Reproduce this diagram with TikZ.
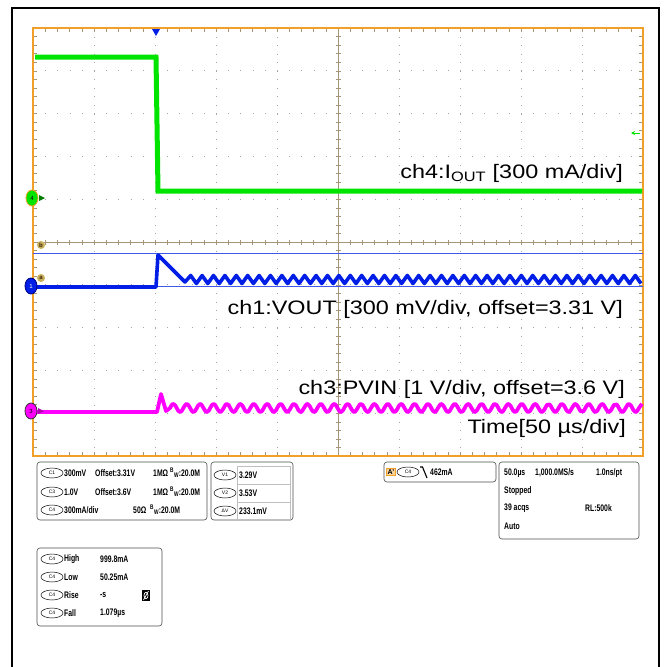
\documentclass[tikz,border=0pt]{standalone}
\usepackage{fontspec}
\setmainfont{Liberation Sans}
\usetikzlibrary{shapes.geometric,arrows.meta}
\definecolor{scopeorange}{RGB}{240,160,40}
\definecolor{trgreen}{RGB}{0,228,0}
\definecolor{trblue}{RGB}{0,30,230}
\definecolor{trmag}{RGB}{255,0,255}
\definecolor{tickgray}{RGB}{165,150,120}
\definecolor{tanmark}{RGB}{200,175,90}
\newcommand\wide[1]{\scalebox{1.2}[1]{#1}}
\newcommand\lcd[1]{\scalebox{0.72}[1]{\bfseries #1}}
\begin{document}
\begin{tikzpicture}[x=1pt, y=-1pt,
  tick/.style={tickgray, line width=0.5pt},
  gridv/.style={black!35, line width=0.9pt, dash pattern=on 0.9pt off 7.66pt},
  gridh/.style={black!35, line width=0.9pt, dash pattern=on 0.9pt off 11.3pt},
  chcapt/.style={anchor=east, inner sep=0pt, font=\fontsize{19.5}{19.5}\selectfont},
  badge/.style={ellipse, draw, line width=0.5pt, minimum width=22pt, minimum height=10pt, inner sep=0pt, font=\fontsize{5}{5}\selectfont},
  rd/.style={anchor=west, inner sep=0pt, font=\fontsize{9.5}{9.5}\selectfont},
  panel/.style={draw=black!70, rounded corners=3pt, line width=0.6pt},
  chmark/.style={ellipse, minimum width=12pt, minimum height=16pt, inner sep=0pt, line width=0.8pt, font=\fontsize{6}{6}\selectfont},
  refmark/.style={circle, fill=tanmark, minimum size=8pt, inner sep=0pt, text=black!70!brown, font=\fontsize{6}{6}\bfseries}]
\useasboundingbox (0,0) rectangle (666,667);
\draw[line width=2pt] (12,680) -- (12,8) -- (659,8) -- (659,680);

\foreach \i in {1,2,3,4,6,7,8,9}{
  \draw[gridv] (33+61*\i,28) -- (33+61*\i,456);
  \draw[gridh] (33,28+42.8*\i) -- (643,28+42.8*\i);
}
\draw[tick] (33,242) -- (643,242) (338,28) -- (338,456);
\foreach \k in {1,...,49}{
  \draw[tick] (33+12.2*\k,28) -- +(0,4) (33+12.2*\k,456) -- +(0,-4) (33+12.2*\k,239.5) -- +(0,5);
  \draw[tick] (33,28+8.56*\k) -- +(4,0) (643,28+8.56*\k) -- +(-4,0) (335.5,28+8.56*\k) -- +(5,0);
}
\draw[scopeorange, line width=1.6pt] (33,28) rectangle (643,456);

\draw[trgreen, line width=5pt] (35,57) -- (156,57) -- (158,191) -- (642,191);
\draw[trblue!75, line width=0.8pt] (33,253) -- (643,253) (33,286) -- (643,286);
\draw[trblue, line width=3.6pt, line join=round] (35,287) -- (156,287) -- (158,255) -- (185,282)
  \foreach \k in {1,...,80}{ -- ({185+5.7*\k},{mod(\k,2)==1 ? 275.5 : 283.5}) };
\draw[trmag, line width=3.8pt, line join=round] (35,412) -- (157,412) -- (161,394) -- (166,411) -- (170,408)
  -- plot[smooth, domain=170:642, samples=170] (\x,{408-4.2*sin((\x-170)/13.4*360)});

\fill[trblue] (152,29) -- (160,29) -- (156,36) -- cycle;
\draw[trgreen, line width=1pt, -{Stealth[length=4pt, width=4pt]}] (640,133) -- (631,133);

\node[chmark, fill=trgreen, draw=scopeorange] (mk4) at (32,198) {4};
\fill[trgreen!55!black] (39,195) -- (45,198) -- (39,201) -- cycle;
\node[refmark] (mkb) at (41,245) {b};
\node[refmark] (mka) at (41,278) {a};
\node[chmark, fill=trblue, draw=blue!50!black, text=white] (mk1) at (31,286) {1};
\node[chmark, fill=trmag, draw=black!80] (mk3) at (31,411) {3};
\fill[trmag!70!black] (38,408) -- (44,411) -- (38,414) -- cycle;

\node[chcapt] (ch4cap) at (623,173) {\wide{ch4:I\textsubscript{OUT} [300 mA/div]}};
\node[chcapt] (ch1cap) at (623,309) {\wide{ch1:VOUT [300 mV/div, offset=3.31 V]}};
\node[chcapt] (ch3cap) at (625,389) {\wide{ch3:PVIN [1 V/div, offset=3.6 V]}};
\node[chcapt] (tcap) at (626,428) {\wide{Time[50 µs/div]}};

\draw[panel] (37,462) rectangle (207,520);
\node[badge] (c1b) at (52,473) {C1};
\node[rd] (c1s) at (64,473) {\lcd{300mV}};
\node[rd] (c1o) at (95,473) {\lcd{Offset:3.31V}};
\node[rd] (c1z) at (153,473) {\lcd{1MΩ}};
\node[rd] (c1w) at (170,473) {\lcd{\textsuperscript{B}\textsubscript{W}:20.0M}};
\node[badge] (c3b) at (52,492) {C3};
\node[rd] (c3s) at (64,492) {\lcd{1.0V}};
\node[rd] (c3o) at (95,492) {\lcd{Offset:3.6V}};
\node[rd] (c3z) at (153,492) {\lcd{1MΩ}};
\node[rd] (c3w) at (170,492) {\lcd{\textsuperscript{B}\textsubscript{W}:20.0M}};
\node[badge] (c4b) at (52,510) {C4};
\node[rd] (c4s) at (64,510) {\lcd{300mA/div}};
\node[rd] (c4z) at (133,510) {\lcd{50Ω}};
\node[rd] (c4w) at (150,510) {\lcd{\textsuperscript{B}\textsubscript{W}:20.0M}};

\draw[panel] (211,462) rectangle (293,520);
\draw[black!25, line width=0.5pt] (237,466) rectangle (290,520) (237,484) -- (290,484) (237,502) -- (290,502);
\node[badge] (v1b) at (225,475) {V1};
\node[rd] (v1v) at (239,475) {\lcd{3.29V}};
\node[badge] (v2b) at (225,493) {V2};
\node[rd] (v2v) at (239,493) {\lcd{3.53V}};
\node[badge] (dvb) at (225,511) {ΔV};
\node[rd] (dvv) at (239,511) {\lcd{233.1mV}};

\draw[panel] (384,462) rectangle (496,482);
\node[fill=scopeorange!45, draw=scopeorange, line width=0.4pt, inner sep=1pt, font=\fontsize{7}{7}\bfseries] (trA) at (391,472) {A'};
\node[badge] (trc4) at (408,472) {C4};
\draw[line width=1.1pt] (420,467) -- (422.5,467) -- (427,478);
\node[rd] (trv) at (430,472) {\lcd{462mA}};

\draw[panel] (499,462) rectangle (639,539);
\node[rd] (hz1) at (504,473) {\lcd{50.0µs}};
\node[rd] (hz2) at (535,473) {\lcd{1,000.0MS/s}};
\node[rd] (hz3) at (596,473) {\lcd{1.0ns/pt}};
\node[rd] (acq1) at (504,491) {\lcd{Stopped}};
\node[rd] (acq2) at (504,508) {\lcd{39 acqs}};
\node[rd] (acq3) at (585,508) {\lcd{RL:500k}};
\node[rd] (acq4) at (504,526) {\lcd{Auto}};

\draw[panel] (37,548) rectangle (162,626);
\node[badge] (m1b) at (52,559) {C4};
\node[rd] (m1l) at (64,559) {\lcd{High}};
\node[rd] (m1v) at (100,559) {\lcd{999.8mA}};
\node[badge] (m2b) at (52,577) {C4};
\node[rd] (m2l) at (64,577) {\lcd{Low}};
\node[rd] (m2v) at (100,577) {\lcd{50.25mA}};
\node[badge] (m3b) at (52,595) {C4};
\node[rd] (m3l) at (64,595) {\lcd{Rise}};
\node[rd] (m3v) at (100,595) {\lcd{-s}};
\node[badge] (m4b) at (52,613) {C4};
\node[rd] (m4l) at (64,613) {\lcd{Fall}};
\node[rd] (m4v) at (100,613) {\lcd{1.079µs}};
\fill (142,590) rectangle (150,601);
\draw[white, line width=0.7pt] (146,595.5) ellipse (2pt and 3.2pt) (143.5,600) -- (148.5,591);
\end{tikzpicture}
\end{document}
